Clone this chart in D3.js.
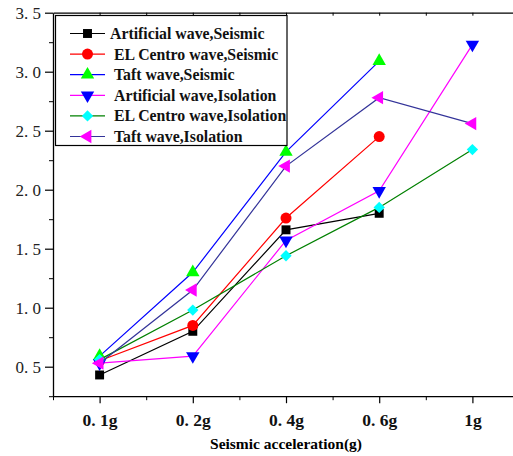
<!DOCTYPE html>
<html>
<head>
<meta charset="utf-8">
<script src="https://cdn.jsdelivr.net/npm/d3@7"></script>
<style>
  body { margin: 0; background: #fff; }
  svg { display: block; }
</style>
</head>
<body>
<svg id="chart" width="513" height="456"></svg>
<script>
// data
var categories = ["0.1g", "0.2g", "0.4g", "0.6g", "1g"];
var tickLabels = ["0. 1g", "0. 2g", "0. 4g", "0. 6g", "1g"];

var artificialSeismic = [0.43, 0.80, 1.66, 1.80];
var elCentroSeismic   = [0.55, 0.85, 1.76, 2.45];
var taftSeismic       = [0.59, 1.30, 2.32, 3.09];
var artificialIso     = [0.53, 0.59, 1.57, 1.99, 3.23];
var elCentroIso       = [0.56, 0.98, 1.44, 1.85, 2.34];
var taftIso           = [0.53, 1.15, 2.20, 2.78, 2.56];

var seriesNames = [
  "Artificial wave,Seismic",
  "EL Centro wave,Seismic",
  "Taft wave,Seismic",
  "Artificial wave,Isolation",
  "EL Centro wave,Isolation",
  "Taft wave,Isolation"
];

var series = [
  {name: seriesNames[0], values: artificialSeismic, line: "#000000", fill: "#000000", shape: "square"},
  {name: seriesNames[1], values: elCentroSeismic,   line: "#ff0000", fill: "#ff0000", shape: "circle"},
  {name: seriesNames[2], values: taftSeismic,       line: "#0000ff", fill: "#00ff00", shape: "up"},
  {name: seriesNames[3], values: artificialIso,     line: "#ff00ff", fill: "#0000ff", shape: "down"},
  {name: seriesNames[4], values: elCentroIso,       line: "#008000", fill: "#00ffff", shape: "diamond"},
  {name: seriesNames[5], values: taftIso,           line: "#333399", fill: "#ff00ff", shape: "left"}
];

var svg = d3.select("svg#chart");

var plotLeft = 53, plotRight = 519, plotTop = 12.7, plotBottom = 396.2;

var x = d3.scaleLinear().domain([0.5, 5.5]).range([plotLeft, plotRight]);
var y = d3.scaleLinear().domain([0.25, 3.5]).range([plotBottom, plotTop]);

// marker shapes
function symbolPath(shape, size) {
  if (shape == "square") return d3.symbol(d3.symbolSquare, size || 80)();
  if (shape == "circle") return d3.symbol(d3.symbolCircle, size || 95)();
  if (shape == "diamond") return d3.symbol(d3.symbolSquare, size || 64)();
  return d3.symbol(d3.symbolTriangle, size || 78)();
}
function symbolRotate(shape) {
  if (shape == "down") return 180;
  if (shape == "left") return -90;
  if (shape == "diamond") return 45;
  return 0;
}

// axes
var yMajor = [0.5, 1.0, 1.5, 2.0, 2.5, 3.0, 3.5];
var yMinor = [0.25, 0.75, 1.25, 1.75, 2.25, 2.75, 3.25];

var yAxis = svg.append("g")
  .attr("transform", "translate(" + plotLeft + ",0)")
  .call(d3.axisLeft(y).tickValues(yMajor).tickSize(8).tickSizeOuter(0)
    .tickFormat(d => d3.format(".1f")(d).replace(".", ". ")));
yAxis.select(".domain").attr("stroke-width", 1.3);
yAxis.selectAll(".tick line").attr("stroke-width", 1.2);
yAxis.selectAll("text")
  .attr("font-family", "Liberation Serif")
  .attr("font-size", 17)
  .attr("fill", "#222")
  .attr("x", -12);

svg.append("g")
  .attr("transform", "translate(" + plotLeft + ",0)")
  .call(d3.axisLeft(y).tickValues(yMinor).tickSize(4).tickFormat(""))
  .call(g => g.select(".domain").remove());

var xAxis = svg.append("g")
  .attr("transform", "translate(0," + plotBottom + ")")
  .call(d3.axisBottom(x).tickValues([1, 2, 3, 4, 5]).tickSize(7).tickSizeOuter(0)
    .tickFormat((d, i) => tickLabels[i]));
xAxis.select(".domain").attr("stroke-width", 1.3);
xAxis.selectAll(".tick line").attr("stroke-width", 1.2);
xAxis.selectAll("text")
  .attr("font-family", "Liberation Serif")
  .attr("font-weight", "bold")
  .attr("font-size", 17.5)
  .attr("fill", "#111")
  .attr("y", 17);

svg.append("g")
  .attr("transform", "translate(0," + plotBottom + ")")
  .call(d3.axisBottom(x).tickValues([0.5, 1.5, 2.5, 3.5, 4.5]).tickSize(4).tickFormat(""))
  .call(g => g.select(".domain").remove());

// top border with small inward ticks
var topAxis = svg.append("g")
  .attr("transform", "translate(0," + plotTop + ")")
  .call(d3.axisBottom(x).tickValues([1, 1.5, 2, 2.5, 3, 3.5, 4, 4.5, 5]).tickSize(3).tickSizeOuter(0).tickFormat(""));
topAxis.select(".domain").attr("stroke-width", 1.3);

svg.append("text")
  .attr("x", 286)
  .attr("y", 449)
  .attr("text-anchor", "middle")
  .attr("font-family", "Liberation Serif")
  .attr("font-weight", "bold")
  .attr("font-size", 15.5)
  .text("Seismic acceleration(g)");

// series
var line = d3.line()
  .x((d, i) => x(i + 1))
  .y(d => y(d));

for (var s of series) {
  svg.append("path")
    .datum(s.values)
    .attr("fill", "none")
    .attr("stroke", s.line)
    .attr("stroke-width", 1.2)
    .attr("d", line);

  svg.selectAll("path.m" + s.shape)
    .data(s.values)
    .enter().append("path")
    .attr("class", "m" + s.shape)
    .attr("d", symbolPath(s.shape))
    .attr("fill", s.fill)
    .attr("transform", (d, i) => "translate(" + x(i + 1) + "," + y(d) + ") rotate(" + symbolRotate(s.shape) + ")");
}

// legend
var legend = svg.append("g");
legend.append("rect")
  .attr("x", 55.5)
  .attr("y", 15.5)
  .attr("width", 231.5)
  .attr("height", 130)
  .attr("fill", "#fff")
  .attr("stroke", "#000")
  .attr("stroke-width", 1.2);

var rows = legend.selectAll("g.row")
  .data(series)
  .enter().append("g")
  .attr("class", "row")
  .attr("transform", (d, i) => "translate(0," + (33.5 + i * 20.6) + ")");

rows.append("line")
  .attr("x1", 70).attr("x2", 105)
  .attr("stroke", d => d.line)
  .attr("stroke-width", 1.2);

rows.append("path")
  .attr("d", d => symbolPath(d.shape))
  .attr("fill", d => d.fill)
  .attr("transform", d => "translate(87.5,0) rotate(" + symbolRotate(d.shape) + ")");

rows.append("text")
  .attr("x", (d, i) => i == 0 ? 110 : 114)
  .attr("y", 5.5)
  .attr("font-family", "Liberation Serif")
  .attr("font-weight", "bold")
  .attr("font-size", 15.8)
  .attr("fill", "#111")
  .text(d => d.name);
</script>
</body>
</html>
